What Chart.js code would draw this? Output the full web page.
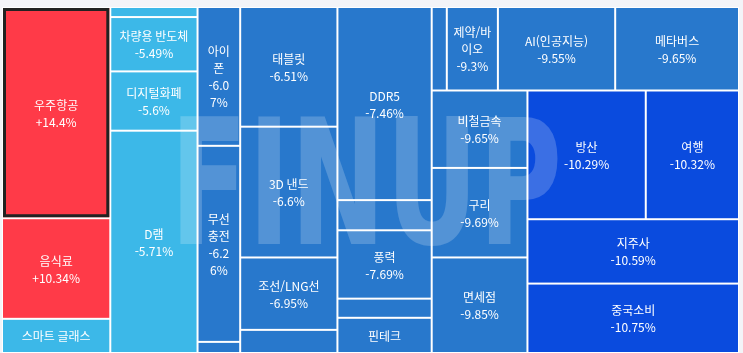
<!DOCTYPE html>
<html lang="ko">
<head>
<meta charset="utf-8">
<script src="https://cdn.jsdelivr.net/npm/chart.js@4.4.1/dist/chart.umd.min.js"></script>
<style>
  html, body { margin: 0; padding: 0; background: #f3f4f8; }
  #wrap { width: 743px; height: 353px; }
</style>
</head>
<body>
<div id="wrap"><canvas id="chart" width="743" height="353"></canvas></div>
<script>
// 테마별 등락률 트리맵 (등락률 순서대로 배치)
const names = [
  '우주항공', '음식료', '스마트 글래스',
  '', '차량용 반도체', '디지털화폐', 'D램',
  '아이폰', '무선충전', '',
  '태블릿', '3D 낸드', '조선/LNG선', '',
  'DDR5', '', '풍력', '', '핀테크',
  '', '제약/바이오', 'AI(인공지능)', '메타버스',
  '비철금속', '구리', '면세점',
  '방산', '여행',
  '지주사', '중국소비'
];
const changes = [
  14.4, 10.34, -5.1,
  -5.4, -5.49, -5.6, -5.71,
  -6.07, -6.26, -6.4,
  -6.51, -6.6, -6.95, -7.2,
  -7.46, -7.55, -7.69, -7.9, -8.4,
  -9.1, -9.3, -9.55, -9.65,
  -9.65, -9.69, -9.85,
  -10.29, -10.32,
  -10.59, -10.75
];
// 셀 크기(비중)
const sizes = [
  2268, 1080, 367,
  87, 470, 513, 1923,
  587, 829, 47,
  1154, 1261, 698, 223,
  1805, 282, 639, 179, 329,
  125, 423, 971, 1025,
  735, 850, 907,
  1510, 1190,
  1350, 1456
];
// 한 줄(열)에 들어가는 항목 수
const rowCounts = [3, 4, 3, 4, 5, 4, 3, 2, 2];

const selectedIndex = 0;

function colorFor(v) {
  if (v > 0) return '#ff3a48';
  if (v > -6) return '#3cb8e8';
  if (v > -10) return '#2878cc';
  return '#0a4bde';
}

// ordered squarify: 남은 영역의 짧은 변을 따라 한 줄씩 채움
function layout(aspect) {
  const total = sizes.reduce((a, b) => a + b, 0);
  const k = aspect / total;
  let x = 0, y = 0, w = aspect, h = 1, i = 0;
  const rects = [];
  for (const n of rowCounts) {
    const items = sizes.slice(i, i + n).map(v => v * k);
    const s = items.reduce((a, b) => a + b, 0);
    if (w >= h) {
      const cw = s / h;
      let yy = y;
      items.forEach(a => { const ch = a / cw; rects.push({ x: x, y: yy, w: cw, h: ch }); yy += ch; });
      x += cw; w -= cw;
    } else {
      const rh = s / w;
      let xx = x;
      items.forEach(a => { const c = a / rh; rects.push({ x: xx, y: y, w: c, h: rh }); xx += c; });
      y += rh; h -= rh;
    }
    i += n;
  }
  return rects.map(r => ({ x: r.x / aspect, y: r.y, w: r.w / aspect, h: r.h }));
}

function wrap(ctx, text, maxW) {
  const lines = [];
  let cur = '';
  for (const ch of text) {
    if (cur && ctx.measureText(cur + ch).width > maxW) {
      lines.push(cur);
      cur = ch === ' ' ? '' : ch;
    } else {
      cur += ch;
    }
  }
  if (cur) lines.push(cur);
  return lines;
}

const treemapPlugin = {
  id: 'treemap',
  beforeDatasetsDraw(chart) {
    const { ctx, chartArea: a, scales: { x: xs, y: ys } } = chart;
    const rects = layout((a.right - a.left) / (a.bottom - a.top));
    const boxes = rects.map(r => {
      const x0 = xs.getPixelForValue(r.x), x1 = xs.getPixelForValue(r.x + r.w);
      const y0 = ys.getPixelForValue(r.y), y1 = ys.getPixelForValue(r.y + r.h);
      return { x: x0, y: y0, w: x1 - x0, h: y1 - y0 };
    });

    ctx.save();
    ctx.fillStyle = '#ffffff';
    ctx.fillRect(a.left, a.top, a.right - a.left, a.bottom - a.top);

    boxes.forEach((b, i) => {
      ctx.fillStyle = colorFor(changes[i]);
      ctx.fillRect(b.x + 1, b.y + 1, b.w - 2, b.h - 2);
      if (i === selectedIndex) {
        ctx.strokeStyle = '#222222';
        ctx.lineWidth = 3;
        ctx.strokeRect(b.x + 2.5, b.y + 2.5, b.w - 5, b.h - 5);
      }
    });

    // 워터마크
    ctx.save();
    ctx.beginPath();
    ctx.rect(a.left, a.top, a.right - a.left, a.bottom - a.top);
    ctx.clip();
    ctx.font = 'bold 174px "DejaVu Sans"';
    ctx.fillStyle = 'rgba(255,255,255,0.2)';
    ctx.textBaseline = 'alphabetic';
    ctx.textAlign = 'center';
    const tw = ctx.measureText('FINUP').width;
    ctx.translate(366, 244);
    ctx.scale(392 / tw, 1);
    ctx.fillText('FINUP', 0, 0);
    ctx.restore();

    // 라벨
    ctx.font = '12px "Noto Sans CJK KR"';
    ctx.fillStyle = '#ffffff';
    ctx.textAlign = 'center';
    ctx.textBaseline = 'middle';
    const lineH = 17;
    boxes.forEach((b, i) => {
      if (!names[i]) return;
      const pad = b.w < 45 ? 8 : 5;   // 좁은 셀은 여백을 조금 더
      const maxW = b.w - pad * 2;
      const chg = (changes[i] > 0 ? '+' : '') + changes[i] + '%';
      let lines = wrap(ctx, names[i], maxW).concat(wrap(ctx, chg, maxW));
      const fit = Math.floor((b.h - 4) / lineH);
      lines = lines.slice(0, fit);
      const cx = b.x + b.w / 2, cy = b.y + b.h / 2;
      lines.forEach((t, j) => {
        ctx.fillText(t, cx, cy - (lines.length - 1) * lineH / 2 + j * lineH + 1);
      });
    });
    ctx.restore();
  }
};

new Chart(document.getElementById('chart'), {
  type: 'scatter',
  data: { datasets: [{ data: [], pointRadius: 0 }] },
  options: {
    responsive: false,
    animation: false,
    devicePixelRatio: 1,
    layout: { padding: { left: 2, top: 7, right: 4, bottom: 0 } },
    plugins: { legend: { display: false }, tooltip: { enabled: false } },
    scales: {
      x: { type: 'linear', min: 0, max: 1, display: false },
      y: { type: 'linear', min: 0, max: 1, reverse: true, display: false }
    }
  },
  plugins: [treemapPlugin]
});
</script>
</body>
</html>
